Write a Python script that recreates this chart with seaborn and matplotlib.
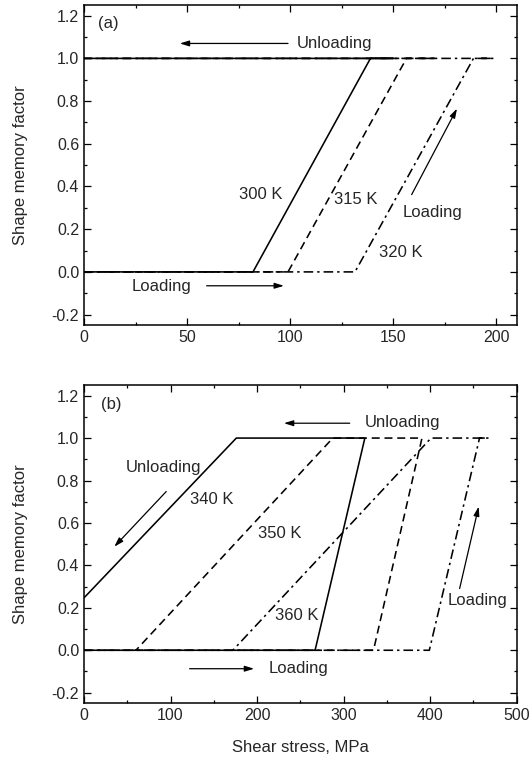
import numpy as np
import pandas as pd
import matplotlib
matplotlib.use("Agg")
import matplotlib.pyplot as plt
from matplotlib.ticker import MultipleLocator
import seaborn as sns

# ---- data ----
# panel (a)
a_300_x = [0, 82, 139, 150, 0]
a_300_y = [0, 0, 1, 1, 1]
a_315_x = [0, 99, 156.5, 170, 0]
a_315_y = [0, 0, 1, 1, 1]
a_320_x = [0, 131.5, 189, 199, 0]
a_320_y = [0, 0, 1, 1, 1]

# panel (b)
b_340_x = [0, 267, 324.5, 176, 0]
b_340_y = [0, 0, 1, 1, 0.247]
b_350_x = [0, 334.5, 390.5, 287.5, 60]
b_350_y = [0, 0, 1, 1, 0]
b_360_x = [0, 399, 457, 467.5, 401, 172]
b_360_y = [0, 0, 1, 1, 1, 0]

temps_a = ["300 K", "315 K", "320 K"]
temps_b = ["340 K", "350 K", "360 K"]

def frame(xs, ys, names):
    rows = []
    for x, y, n in zip(xs, ys, names):
        for i, (xi, yi) in enumerate(zip(x, y)):
            rows.append({"stress": xi, "factor": yi, "curve": n, "order": i})
    return pd.DataFrame(rows)

df_a = frame([a_300_x, a_315_x, a_320_x], [a_300_y, a_315_y, a_320_y], temps_a)
df_b = frame([b_340_x, b_350_x, b_360_x], [b_340_y, b_350_y, b_360_y], temps_b)

sns.set_style("ticks")
plt.rcParams["font.family"] = ["Liberation Sans", "DejaVu Sans"]
plt.rcParams["axes.linewidth"] = 1.1

fig = plt.figure(figsize=(5.3, 7.6), dpi=100)
ax_a = fig.add_axes([0.1585, 0.572, 0.975 - 0.1585, 0.9934 - 0.572])
ax_b = fig.add_axes([0.1585, 0.0746, 0.975 - 0.1585, 0.4934 - 0.0746])

dash_solid = ""
dash_dashed = (5, 3)
dash_dd = (6, 2.5, 1.5, 2.5)

for ax, df, names in [(ax_a, df_a, temps_a), (ax_b, df_b, temps_b)]:
    sns.lineplot(data=df, x="stress", y="factor", style="curve",
                 style_order=names,
                 dashes={names[0]: dash_solid, names[1]: dash_dashed, names[2]: dash_dd},
                 color="black", lw=1.15, sort=False, estimator=None,
                 legend=False, ax=ax)

arrow = dict(arrowstyle="-|>,head_length=0.55,head_width=0.17", color="black", lw=0.9,
             shrinkA=0, shrinkB=0)
fs = 12

# panel (a) styling
ax_a.set_xlim(0, 210)
ax_a.set_ylim(-0.25, 1.25)
ax_a.xaxis.set_major_locator(MultipleLocator(50))
ax_a.xaxis.set_minor_locator(MultipleLocator(25))
ax_a.text(7, 1.165, "(a)", fontsize=fs, va="center", ha="left")
ax_a.text(103, 1.07, "Unloading", fontsize=fs, va="center", ha="left")
ax_a.annotate("", xy=(46.5, 1.07), xytext=(99, 1.07), arrowprops=arrow)
ax_a.text(23, -0.068, "Loading", fontsize=fs, va="center", ha="left")
ax_a.annotate("", xy=(97, -0.065), xytext=(59.5, -0.065), arrowprops=arrow)
ax_a.text(154.5, 0.277, "Loading", fontsize=fs, va="center", ha="left")
ax_a.annotate("", xy=(181, 0.765), xytext=(159, 0.362), arrowprops=arrow)
ax_a.text(75.3, 0.362, "300 K", fontsize=fs, va="center", ha="left")
ax_a.text(121.5, 0.338, "315 K", fontsize=fs, va="center", ha="left")
ax_a.text(143, 0.093, "320 K", fontsize=fs, va="center", ha="left")
ax_a.set_xlabel("")

# panel (b) styling
ax_b.set_xlim(0, 500)
ax_b.set_ylim(-0.25, 1.25)
ax_b.xaxis.set_major_locator(MultipleLocator(100))
ax_b.xaxis.set_minor_locator(MultipleLocator(50))
ax_b.text(19.5, 1.158, "(b)", fontsize=fs, va="center", ha="left")
ax_b.text(324.5, 1.071, "Unloading", fontsize=fs, va="center", ha="left")
ax_b.annotate("", xy=(231, 1.07), xytext=(307, 1.07), arrowprops=arrow)
ax_b.text(48, 0.861, "Unloading", fontsize=fs, va="center", ha="left")
ax_b.annotate("", xy=(35, 0.488), xytext=(95, 0.748), arrowprops=arrow)
ax_b.text(123, 0.712, "340 K", fontsize=fs, va="center", ha="left")
ax_b.text(201.5, 0.551, "350 K", fontsize=fs, va="center", ha="left")
ax_b.text(221, 0.165, "360 K", fontsize=fs, va="center", ha="left")
ax_b.text(420.5, 0.236, "Loading", fontsize=fs, va="center", ha="left")
ax_b.annotate("", xy=(456, 0.677), xytext=(434, 0.291), arrowprops=arrow)
ax_b.text(213, -0.087, "Loading", fontsize=fs, va="center", ha="left")
ax_b.annotate("", xy=(196.5, -0.087), xytext=(122, -0.087), arrowprops=arrow)
ax_b.set_xlabel("Shear stress, MPa", fontsize=fs, labelpad=12)

for ax in (ax_a, ax_b):
    ax.yaxis.set_major_locator(MultipleLocator(0.2))
    ax.yaxis.set_minor_locator(MultipleLocator(0.1))
    ax.set_yticks(np.round(np.arange(-0.2, 1.21, 0.2), 1))
    ax.set_yticklabels([f"{v:.1f}" for v in np.arange(-0.2, 1.21, 0.2)])
    ax.tick_params(which="both", direction="in", top=True, right=True,
                   labelsize=11.5, width=0.9, color="black")
    ax.tick_params(which="major", length=5)
    ax.tick_params(which="minor", length=2.5)
    ax.set_ylabel("Shape memory factor", fontsize=fs, labelpad=17)
    for s in ax.spines.values():
        s.set_color("black")

fig.savefig("out.png", dpi=100, facecolor="white")
